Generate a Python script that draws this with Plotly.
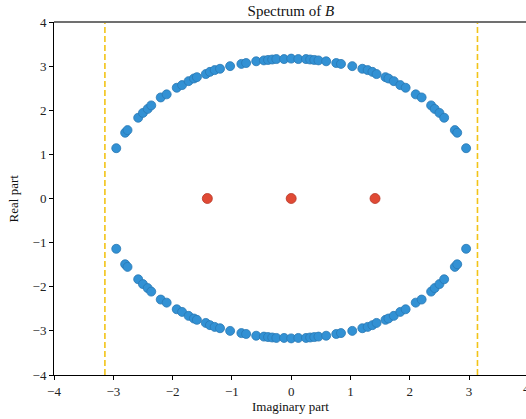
import plotly.graph_objects as go

upper_x = [-2.95, -2.80, -2.76, -2.58, -2.50, -2.42, -2.36, -2.20, -2.10, -1.93, -1.84, -1.73, -1.64, -1.59,
           -1.44, -1.37, -1.29, -1.20, -1.03, -0.84, -0.76, -0.59, -0.46, -0.39, -0.32, -0.25, -0.12, 0.00,
           0.12, 0.25, 0.32, 0.39, 0.46, 0.59, 0.76, 0.84, 1.03, 1.20, 1.29, 1.37, 1.44, 1.59, 1.64, 1.73,
           1.84, 1.93, 2.10, 2.20, 2.36, 2.42, 2.50, 2.58, 2.76, 2.80, 2.95]
upper_y = [1.14, 1.49, 1.55, 1.83, 1.94, 2.03, 2.11, 2.29, 2.36, 2.51, 2.57, 2.66, 2.72, 2.75,
           2.82, 2.87, 2.91, 2.94, 3.00, 3.05, 3.07, 3.11, 3.13, 3.14, 3.15, 3.16, 3.16, 3.17,
           3.16, 3.16, 3.15, 3.14, 3.13, 3.11, 3.07, 3.05, 3.00, 2.94, 2.91, 2.87, 2.82, 2.75, 2.72, 2.66,
           2.57, 2.51, 2.36, 2.29, 2.11, 2.03, 1.94, 1.83, 1.55, 1.49, 1.14]
lower_x = [-2.95, -2.80, -2.76, -2.58, -2.50, -2.42, -2.36, -2.20, -2.10, -1.93, -1.84, -1.73, -1.64, -1.59,
           -1.44, -1.37, -1.29, -1.20, -1.03, -0.84, -0.76, -0.59, -0.46, -0.39, -0.32, -0.25, -0.12, 0.00,
           0.12, 0.25, 0.32, 0.39, 0.46, 0.59, 0.76, 0.84, 1.03, 1.20, 1.29, 1.37, 1.44, 1.59, 1.64, 1.73,
           1.84, 1.93, 2.10, 2.20, 2.36, 2.42, 2.50, 2.58, 2.76, 2.80, 2.95]
lower_y = [-1.14, -1.49, -1.55, -1.83, -1.94, -2.03, -2.11, -2.29, -2.36, -2.51, -2.57, -2.66, -2.72, -2.75,
           -2.82, -2.87, -2.91, -2.94, -3.00, -3.05, -3.07, -3.11, -3.13, -3.14, -3.15, -3.16, -3.16, -3.17,
           -3.16, -3.16, -3.15, -3.14, -3.13, -3.11, -3.07, -3.05, -3.00, -2.94, -2.91, -2.87, -2.82, -2.75, -2.72, -2.66,
           -2.57, -2.51, -2.36, -2.29, -2.11, -2.03, -1.94, -1.83, -1.55, -1.49, -1.14]
real_x = [-1.414, 0.0, 1.414]
real_y = [0.0, 0.0, 0.0]
bound_x = [-3.1416, 3.1416]
tick_vals = [-4, -3, -2, -1, 0, 1, 2, 3, 4]
tick_text = ["\u22124", "\u22123", "\u22122", "\u22121", "0", "1", "2", "3", "4"]

FONT = "Liberation Serif, Times New Roman, serif"
BLUE = "#3291d4"
BLUE_EDGE = "#2a78b4"
RED = "#e04a35"
RED_EDGE = "#b83524"
YELLOW = "#f2c418"

fig = go.Figure()
for bx in bound_x:
    fig.add_trace(go.Scatter(x=[bx, bx], y=[-4, 4], mode="lines",
                             line=dict(color=YELLOW, width=1.6, dash="6px,3px"),
                             showlegend=False, hoverinfo="skip"))
fig.add_trace(go.Scatter(x=upper_x + lower_x, y=upper_y + lower_y, mode="markers",
                         marker=dict(size=9, color=BLUE, line=dict(color=BLUE_EDGE, width=0.8)),
                         showlegend=False))
fig.add_trace(go.Scatter(x=real_x, y=real_y, mode="markers",
                         marker=dict(size=10, color=RED, line=dict(color=RED_EDGE, width=0.8)),
                         showlegend=False))

fig.add_shape(type="line", xref="paper", yref="paper", x0=0, x1=1, y0=1, y1=1,
              line=dict(color="#707070", width=2))
fig.add_annotation(x=1.0, y=0, xref="paper", yref="paper", xanchor="center", yanchor="top", yshift=-4,
                   text="4", showarrow=False, font=dict(family=FONT, size=13, color="#222"))
fig.add_annotation(x=0.5, y=-0.088, xref="paper", yref="paper", xanchor="center", yanchor="middle",
                   text="Imaginary part", showarrow=False, font=dict(family=FONT, size=13, color="#111"))
fig.add_annotation(x=-0.085, y=0.5, xref="paper", yref="paper", xanchor="center", yanchor="middle",
                   text="Real part", textangle=-90, showarrow=False,
                   font=dict(family=FONT, size=13, color="#111"))

fig.update_layout(
    width=526, height=419,
    margin=dict(l=54, r=0, t=22, b=44, autoexpand=False),
    paper_bgcolor="white", plot_bgcolor="white",
    font=dict(family=FONT, size=13, color="#222"),
    title=dict(text="Spectrum of <i>B</i>", x=0.553, xanchor="center", y=0.975, yref="container",
               yanchor="middle", automargin=False, font=dict(family=FONT, size=15, color="#111")),
)
fig.update_xaxes(range=[-4, 3.96], tickvals=tick_vals, ticktext=tick_text, automargin=False,
                 showgrid=False, zeroline=False, showline=True, linecolor="black", linewidth=1,
                 ticks="outside", ticklen=4, tickcolor="black")
fig.update_yaxes(range=[-4, 4], tickvals=tick_vals, ticktext=tick_text, automargin=False,
                 showgrid=False, zeroline=False, showline=True, linecolor="black", linewidth=1,
                 ticks="outside", ticklen=4, tickcolor="black")

fig.write_html("out.html", config={"displayModeBar": False},
               post_script="document.body.style.margin='0';document.body.style.overflow='hidden';")
